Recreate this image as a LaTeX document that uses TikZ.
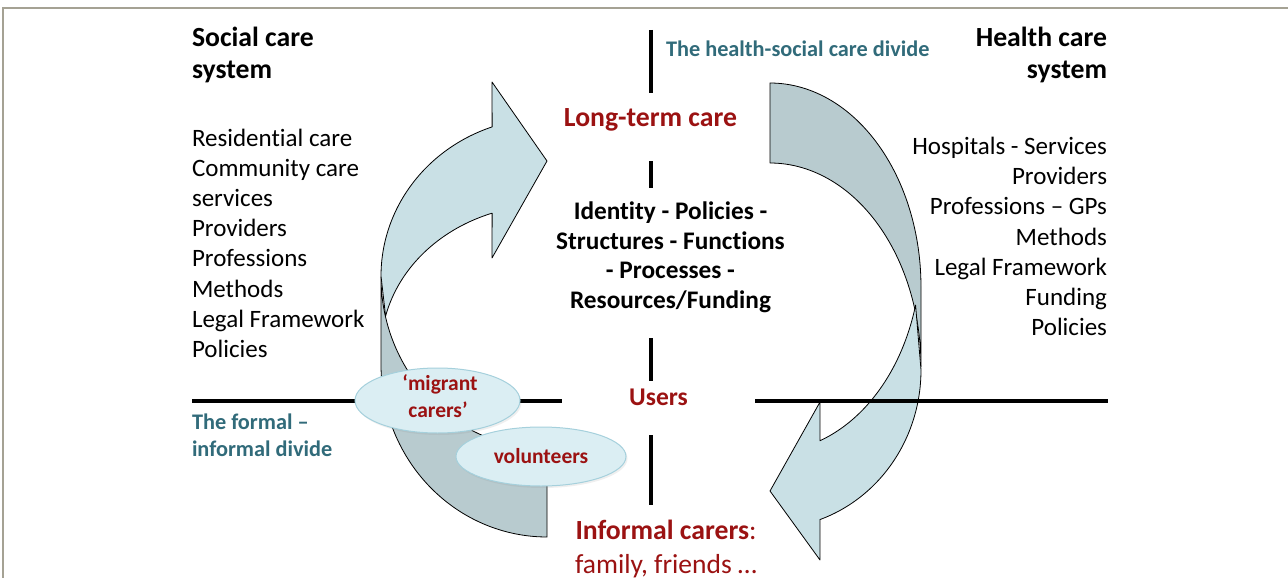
\documentclass[tikz,border=0pt]{standalone}
\usepackage{fontspec}
\setmainfont{Carlito}[Ligatures=NoCommon]
\usetikzlibrary{shapes.geometric,shadows}
\definecolor{dred}{RGB}{155,18,18}
\definecolor{tealtxt}{RGB}{49,107,122}
\definecolor{arrlight}{RGB}{201,224,229}
\definecolor{arrdark}{RGB}{184,203,207}
\definecolor{ellfill}{RGB}{219,238,243}
\definecolor{elldraw}{RGB}{165,208,220}
\definecolor{framegray}{RGB}{165,162,148}
\begin{document}
\begin{tikzpicture}[x=1pt,y=-1pt,
  every node/.style={inner sep=0pt, outer sep=0pt},
  ttl/.style={font=\fontsize{27.7}{33}\selectfont\bfseries},
  body/.style={font=\fontsize{25}{30}\selectfont},
  ctr/.style={font=\fontsize{25.3}{30}\selectfont\bfseries},
  redlbl/.style={font=\fontsize{27.7}{33}\selectfont\bfseries, text=dred},
  divlbl/.style={font=\fontsize{22.3}{27}\selectfont\bfseries, text=tealtxt},
  elllbl/.style={font=\fontsize{21.5}{27}\selectfont\bfseries, text=dred},
  bubble/.style={ellipse, fill=ellfill, draw=elldraw, line width=1pt,
    drop shadow={opacity=0.12, shadow xshift=1.5pt, shadow yshift=-2pt}},
  divider/.style={line width=3.5pt, draw=black},
  bandback/.style={fill=arrdark, draw=black, line width=0.8pt, line join=round},
  bandfront/.style={fill=arrlight, draw=black, line width=0.8pt, line join=round},
]
\useasboundingbox (0,0) rectangle (1288,578);
\fill[white] (0,0) rectangle (1288,578);
\draw[framegray, line width=1.5pt] (3,578) -- (3,8) -- (1288,8);

% left curved arrow (back face, then front face)
\filldraw[bandback]
  plot[domain=180:90, samples=60, variable=\t] ({547+166*cos(\t)},{365+172*sin(\t)})
  -- plot[domain=90:180, samples=60, variable=\t] ({547+166*cos(\t)},{277+172*sin(\t)})
  -- cycle;
\filldraw[bandfront]
  plot[domain=180:250.7, samples=60, variable=\t] ({547+166*cos(\t)},{276+158*sin(\t)})
  -- (492,82) -- (547,161) -- (492,258)
  -- plot[domain=250.7:193.5, samples=60, variable=\t] ({547+166*cos(\t)},{350+145*sin(\t)})
  -- cycle;

% right curved arrow (back face, then front face)
\filldraw[bandback]
  plot[domain=270:360, samples=60, variable=\t] ({770+151*cos(\t)},{287+204*sin(\t)})
  -- plot[domain=360:270, samples=60, variable=\t] ({770+151*cos(\t)},{367+204*sin(\t)})
  -- cycle;
\filldraw[bandfront]
  plot[domain=0:70.7, samples=60, variable=\t] ({770+151*cos(\t)},{370+158.5*sin(\t)})
  -- (820,560) -- (770,491) -- (820,402)
  -- plot[domain=70.7:15.4, samples=60, variable=\t] ({770+151*cos(\t)},{252+200*sin(\t)})
  -- cycle;

% dividers
\draw[divider] (192,401) -- (562,401);
\draw[divider] (755,401) -- (1108,401);
\draw[divider] (651,30) -- (651,93);
\draw[divider] (651,161) -- (651,188);
\draw[divider] (651,338) -- (651,381);
\draw[divider] (651,435) -- (651,505);

% titles
\node[ttl, anchor=base west] (st1) at (192,46.5) {Social care};
\node[ttl, anchor=base west] (st2) at (192,78.3) {system};
\node[ttl, anchor=base east] (ht1) at (1107,46.7) {Health care};
\node[ttl, anchor=base east] (ht2) at (1107,78.3) {system};

% lists
\foreach \txt [count=\i] in {Residential care, Community care, services, Providers, Professions, Methods, Legal Framework, Policies}
  \node[body, anchor=base west] (sl\i) at (192,{146+30.2*(\i-1)}) {\txt};
\foreach \txt [count=\i] in {Hospitals - Services, Providers, Professions – GPs, Methods, Legal Framework, Funding, Policies}
  \node[body, anchor=base east] (hl\i) at (1107,{154.5+30.2*(\i-1)}) {\txt};
\foreach \txt [count=\i] in {Identity - Policies -, Structures - Functions, - Processes -, Resources/Funding}
  \node[ctr, anchor=base] (cl\i) at (670.5,{219.3+29.7*(\i-1)}) {\txt};

% centre labels
\node[divlbl, anchor=base west] (hsd) at (666,57) {The health-social care divide};
\node[redlbl, anchor=base] (ltc) at (650.5,126) {Long-term care};
\node[font=\fontsize{25.5}{30}\selectfont\bfseries, text=dred, anchor=base] (users) at (658.5,405) {Users};
\node[divlbl, anchor=base west] (fd1) at (192,429.5) {The formal –};
\node[divlbl, anchor=base west] (fd2) at (192,456.5) {informal divide};
\node[redlbl, anchor=base] (inf) at (666,539) {Informal carers{\mdseries :}};
\node[font=\fontsize{27.5}{32}\selectfont, text=dred, anchor=base] (fam) at (666,573) {family, friends …};

% bubbles
\node[bubble, minimum width=165pt, minimum height=65pt] (mig) at (437.5,400.5) {};
\node[elllbl, anchor=base] (mig1) at (440,390) {‘migrant};
\node[elllbl, anchor=base] (mig2) at (438,417) {carers’};
\node[bubble, minimum width=170pt, minimum height=59pt] (vol) at (541,456.5) {};
\node[elllbl, anchor=base] (voltxt) at (541,463) {volunteers};
\end{tikzpicture}
\end{document}
